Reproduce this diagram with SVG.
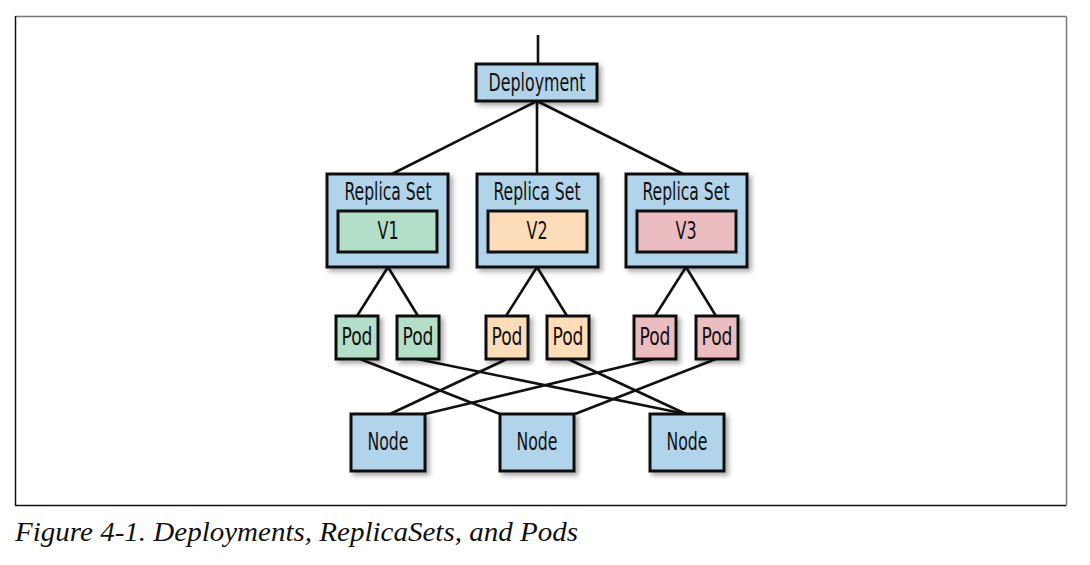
<svg xmlns="http://www.w3.org/2000/svg" width="1090" height="565" viewBox="0 0 1090 565">
<defs>
<filter id="sh" x="-20%" y="-20%" width="150%" height="150%">
<feDropShadow dx="3" dy="3" stdDeviation="2.5" flood-color="#000" flood-opacity="0.35"/>
</filter>
<style>
.box{stroke:#111;stroke-width:3;filter:url(#sh)}
.inner{stroke:#111;stroke-width:3}
.blue{fill:#b1d4ea}
.green{fill:#b3dec7}
.peach{fill:#fddcba}
.pink{fill:#ecbdc0}
.t{font-family:"DejaVu Sans Condensed","DejaVu Sans",sans-serif;font-size:24px;fill:#111;text-anchor:middle}
.c{stroke:#111;stroke-width:2.6;fill:none}
</style>
</defs>
<rect x="0" y="0" width="1090" height="565" fill="#fff"/>
<g id="frame">
<line x1="15.5" y1="16.5" x2="1066.5" y2="16.5" stroke="#777" stroke-width="1.5"/>
<line x1="1066.5" y1="16.5" x2="1066.5" y2="505.5" stroke="#777" stroke-width="1.5"/>
<line x1="15.5" y1="16" x2="15.5" y2="505.5" stroke="#111" stroke-width="1.5"/>
<line x1="15" y1="505.5" x2="1066" y2="505.5" stroke="#111" stroke-width="1.5"/>
</g>
<g id="connectors">
<line class="c" x1="538" y1="35" x2="538" y2="64"/>
<line class="c" x1="537" y1="101" x2="390" y2="175"/>
<line class="c" x1="537" y1="101" x2="537" y2="175"/>
<line class="c" x1="537" y1="101" x2="685" y2="175"/>
<line class="c" x1="388" y1="267" x2="357" y2="316"/>
<line class="c" x1="388" y1="267" x2="418" y2="316"/>
<line class="c" x1="537" y1="267" x2="506" y2="316"/>
<line class="c" x1="537" y1="267" x2="567" y2="316"/>
<line class="c" x1="686" y1="267" x2="655" y2="316"/>
<line class="c" x1="686" y1="267" x2="716" y2="316"/>
<line class="c" x1="360" y1="359" x2="500" y2="414"/>
<line class="c" x1="417" y1="359" x2="686" y2="414"/>
<line class="c" x1="507" y1="359" x2="390" y2="414"/>
<line class="c" x1="568" y1="359" x2="686" y2="414"/>
<line class="c" x1="654" y1="359" x2="425" y2="414"/>
<line class="c" x1="716" y1="359" x2="575" y2="414"/>
</g>
<g id="deployment">
<rect class="box blue" x="476" y="64" width="121" height="37"/>
<text class="t" x="537" y="91" textLength="97" lengthAdjust="spacingAndGlyphs">Deployment</text>
</g>
<g id="rs1">
<rect class="box blue" x="327" y="174" width="121" height="93"/>
<text class="t" x="388" y="200" textLength="87" lengthAdjust="spacingAndGlyphs">Replica Set</text>
<rect class="inner green" x="338" y="211" width="99" height="41"/>
<text class="t" x="388" y="239" textLength="21" lengthAdjust="spacingAndGlyphs">V1</text>
</g>
<g id="rs2">
<rect class="box blue" x="477" y="174" width="121" height="93"/>
<text class="t" x="537" y="200" textLength="87" lengthAdjust="spacingAndGlyphs">Replica Set</text>
<rect class="inner peach" x="488" y="211" width="99" height="41"/>
<text class="t" x="537" y="239" textLength="21" lengthAdjust="spacingAndGlyphs">V2</text>
</g>
<g id="rs3">
<rect class="box blue" x="626" y="174" width="121" height="93"/>
<text class="t" x="686" y="200" textLength="87" lengthAdjust="spacingAndGlyphs">Replica Set</text>
<rect class="inner pink" x="637" y="211" width="99" height="41"/>
<text class="t" x="686" y="239" textLength="21" lengthAdjust="spacingAndGlyphs">V3</text>
</g>
<g id="pod1"><rect class="box green" x="336" y="316" width="42" height="43"/><text class="t" x="357" y="345" textLength="31" lengthAdjust="spacingAndGlyphs">Pod</text></g>
<g id="pod2"><rect class="box green" x="397" y="316" width="42" height="43"/><text class="t" x="418" y="345" textLength="31" lengthAdjust="spacingAndGlyphs">Pod</text></g>
<g id="pod3"><rect class="box peach" x="486" y="316" width="42" height="43"/><text class="t" x="507" y="345" textLength="31" lengthAdjust="spacingAndGlyphs">Pod</text></g>
<g id="pod4"><rect class="box peach" x="547" y="316" width="42" height="43"/><text class="t" x="568" y="345" textLength="31" lengthAdjust="spacingAndGlyphs">Pod</text></g>
<g id="pod5"><rect class="box pink" x="634" y="316" width="42" height="43"/><text class="t" x="655" y="345" textLength="31" lengthAdjust="spacingAndGlyphs">Pod</text></g>
<g id="pod6"><rect class="box pink" x="696" y="316" width="42" height="43"/><text class="t" x="717" y="345" textLength="31" lengthAdjust="spacingAndGlyphs">Pod</text></g>
<g id="node1"><rect class="box blue" x="351" y="414" width="74" height="57"/><text class="t" x="388" y="450" textLength="41" lengthAdjust="spacingAndGlyphs">Node</text></g>
<g id="node2"><rect class="box blue" x="500" y="414" width="74" height="57"/><text class="t" x="537" y="450" textLength="41" lengthAdjust="spacingAndGlyphs">Node</text></g>
<g id="node3"><rect class="box blue" x="650" y="414" width="74" height="57"/><text class="t" x="687" y="450" textLength="41" lengthAdjust="spacingAndGlyphs">Node</text></g>
<text x="15" y="541" font-family="'Liberation Serif',serif" font-style="italic" font-size="28" fill="#111" textLength="563" lengthAdjust="spacingAndGlyphs">Figure 4-1. Deployments, ReplicaSets, and Pods</text>
</svg>
